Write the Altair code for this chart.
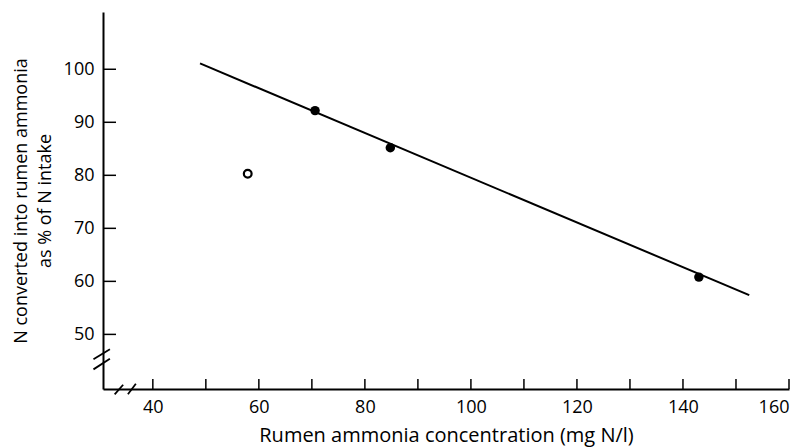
import altair as alt
import pandas as pd

# Data
filled_x = [70.6, 84.8, 143.0]
filled_y = [92.2, 85.2, 60.8]
open_x = [57.9]
open_y = [80.3]
line_x = [48.9, 152.5]
line_y = [101.1, 57.4]

x_ticks = [40, 50, 60, 70, 80, 90, 100, 110, 120, 130, 140, 150, 160]
x_labels = [40, 60, 80, 100, 120, 140, 160]
y_ticks = [50, 60, 70, 80, 90, 100]

# axis-break slashes (data coordinates)
brk_x1 = [28.8, 28.8, 32.8, 35.3]
brk_y1 = [45.3, 43.4, 38.7, 38.7]
brk_x2 = [31.9, 31.9, 34.4, 36.8]
brk_y2 = [47.2, 45.4, 40.5, 40.7]

XDOM = [30.6, 160]
YDOM = [39.7, 110.8]
W, H = 686, 377
FONT = "Open Sans"

xs = alt.Scale(domain=XDOM, nice=False, zero=False)
ys = alt.Scale(domain=YDOM, nice=False, zero=False)

filled = pd.DataFrame({"x": filled_x, "y": filled_y})
opened = pd.DataFrame({"x": open_x, "y": open_y})
line = pd.DataFrame({"x": line_x, "y": line_y})
xt = pd.DataFrame({"v": x_ticks})
yt = pd.DataFrame({"v": y_ticks})
brk = pd.DataFrame({"x": brk_x1, "y": brk_y1, "x2": brk_x2, "y2": brk_y2})

base_x = alt.X("x:Q", scale=xs,
               axis=alt.Axis(values=x_labels, title="Rumen ammonia concentration (mg N/l)",
                             tickSize=0, labelPadding=9, grid=False, format="d",
                             titleFontSize=20, titleBaseline="alphabetic", titleY=52))
base_y = alt.Y("y:Q", scale=ys,
               axis=alt.Axis(values=y_ticks, title=["N converted into rumen ammonia", "as % of N intake"],
                             tickSize=0, labelPadding=9, grid=False, titlePadding=9,
                             titleLineHeight=24))

line_layer = alt.Chart(line).mark_line(color="black", strokeWidth=2).encode(x=base_x, y=base_y)
filled_layer = alt.Chart(filled).mark_point(filled=True, color="black", size=90, opacity=1).encode(x="x:Q", y="y:Q")
open_layer = alt.Chart(opened).mark_point(filled=False, color="black", size=60, strokeWidth=2.2, opacity=1).encode(x="x:Q", y="y:Q")

xtick_layer = alt.Chart(xt).mark_rule(color="black", strokeWidth=1.5).encode(
    x=alt.X("v:Q", scale=xs), y=alt.value(H), y2=alt.value(H - 10))
ytick_layer = alt.Chart(yt).mark_rule(color="black", strokeWidth=1.5).encode(
    y=alt.Y("v:Q", scale=ys), x=alt.value(0), x2=alt.value(13))
brk_layer = alt.Chart(brk).mark_rule(color="black", strokeWidth=1.8, clip=False).encode(
    x=alt.X("x:Q", scale=xs), y=alt.Y("y:Q", scale=ys), x2="x2:Q", y2="y2:Q")

chart = alt.layer(line_layer, filled_layer, open_layer, xtick_layer, ytick_layer, brk_layer).properties(
    width=W, height=H, autosize="none",
    padding={"left": 95, "top": 4, "right": 8, "bottom": 59},
    background="white",
).configure_view(stroke=None).configure_axis(
    domainColor="black", domainWidth=2, labelColor="black", titleColor="black",
    labelFont=FONT, titleFont=FONT, labelFontSize=18, titleFontSize=18,
    titleFontWeight="normal",
)

chart.save("out.html", embed_options={"renderer": "svg", "actions": False})
